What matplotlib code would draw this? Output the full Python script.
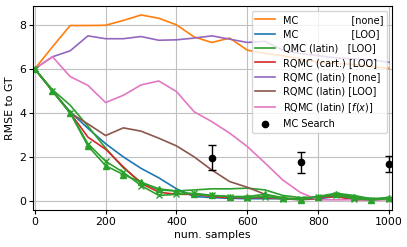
import matplotlib
matplotlib.use("Agg")
import matplotlib.pyplot as plt
import numpy as np

# sample counts
n_samples = np.arange(0, 1001, 50)

mc_none = [6.0, 7.0, 7.97, 7.97, 7.98, 8.2, 8.45, 8.3, 8.0, 7.45, 7.2, 7.4, 6.85, 6.7,
           6.6, 6.45, 6.3, 6.25, 6.2, 6.1, 6.02]
mc_loo = [6.0, 5.0, 4.05, 3.3, 2.6, 2.0, 1.48, 1.05, 0.55, 0.2, 0.15, 0.12, 0.1, 0.1,
          0.1, 0.1, 0.1, 0.2, 0.15, 0.1, 0.1]
qmc_latin_loo = [6.0, 5.05, 4.35, 3.4, 2.4, 1.5, 0.85, 0.5, 0.45, 0.5, 0.55, 0.55, 0.58,
                 0.5, 0.25, 0.15, 0.2, 0.35, 0.25, 0.1, 0.15]
rqmc_cart_loo = [6.0, 5.0, 4.0, 2.9, 2.35, 1.55, 0.8, 0.4, 0.3, 0.3, 0.2, 0.15, 0.15,
                 0.15, 0.1, 0.1, 0.15, 0.2, 0.05, 0.05, 0.1]
rqmc_latin_none = [6.0, 6.55, 6.82, 7.5, 7.37, 7.37, 7.47, 7.3, 7.32, 7.4, 7.5, 7.35, 7.2,
                   7.25, 6.85, 6.7, 6.6, 6.5, 6.45, 6.4, 6.3]
rqmc_latin_loo = [6.0, 5.0, 4.0, 3.5, 2.97, 3.32, 3.17, 2.85, 2.5, 2.0, 1.4, 0.88, 0.62,
                  0.3, 0.1, 0.05, 0.1, 0.3, 0.15, 0.05, 0.1]
rqmc_latin_fx = [6.0, 6.55, 5.65, 5.25, 4.47, 4.8, 5.27, 5.45, 4.97, 4.05, 3.6, 3.08, 2.47,
                 1.72, 0.95, 0.38, 0.05, 0.05, 0.05, 0.05, 0.05]
# extra green runs with markers (not in legend)
green_tri = [6.0, 5.0, 4.0, 2.5, 1.6, 1.2, 0.85, 0.55, 0.45, 0.3, 0.25, 0.2, 0.2, 0.3,
             0.15, 0.05, 0.2, 0.3, 0.2, 0.05, 0.15]
green_x = [6.0, 5.0, 4.0, 2.6, 1.8, 1.3, 0.7, 0.25, 0.3, 0.35, 0.25, 0.2, 0.15, 0.2, 0.1,
           0.1, 0.2, 0.25, 0.1, 0.05, 0.1]

search_x = [500, 750, 1000]
search_y = [1.97, 1.76, 1.69]
search_err = [0.58, 0.48, 0.36]

plt.rcParams["font.size"] = 7.8

fig = plt.figure(figsize=(4.07, 2.47), dpi=100)
ax = fig.add_axes([0.081, 0.150, 0.882, 0.826])

lw = 1.2
ax.plot(n_samples, mc_none, color="tab:orange", lw=lw, label="MC" + " " * 17 + "[none]")
ax.plot(n_samples, mc_loo, color="tab:blue", lw=lw, label="MC" + " " * 17 + "[LOO]")
ax.plot(n_samples, qmc_latin_loo, color="tab:green", lw=lw, label="QMC (latin)   [LOO]")
ax.plot(n_samples, rqmc_cart_loo, color="tab:red", lw=lw, label="RQMC (cart.) [LOO]")
ax.plot(n_samples, rqmc_latin_none, color="tab:purple", lw=lw, label="RQMC (latin) [none]")
ax.plot(n_samples, rqmc_latin_loo, color="tab:brown", lw=lw, label="RQMC (latin) [LOO]")
ax.plot(n_samples, rqmc_latin_fx, color="tab:pink", lw=lw, label="RQMC (latin) [$f(x)$]")
ax.plot(n_samples, green_tri, color="tab:green", lw=lw, marker="^", ms=4.5)
ax.plot(n_samples, green_x, color="tab:green", lw=lw, marker="x", ms=4.5, mew=1.0)

ax.errorbar(search_x, search_y, yerr=search_err, fmt="none", ecolor="black",
            elinewidth=1.0, capsize=3.2, capthick=1.0)
ax.plot(search_x, search_y, "o", color="black", ms=4.5, label="MC Search")

ax.set_xlim(-5, 1008)
ax.set_ylim(-0.41, 8.86)
ax.set_xticks([0, 200, 400, 600, 800, 1000])
ax.set_yticks([0, 2, 4, 6, 8])
ax.grid(True, color="#c0c0c0", lw=0.8)
ax.set_axisbelow(True)
ax.set_xlabel("num. samples", labelpad=2)
ax.set_ylabel("RMSE to GT", labelpad=3)
ax.tick_params(length=3, pad=2)

ax.legend(loc="upper right", fontsize=7, labelspacing=0.45, handlelength=2.0,
          borderaxespad=0.5, handletextpad=0.8)

fig.savefig("out.png", dpi=100)
